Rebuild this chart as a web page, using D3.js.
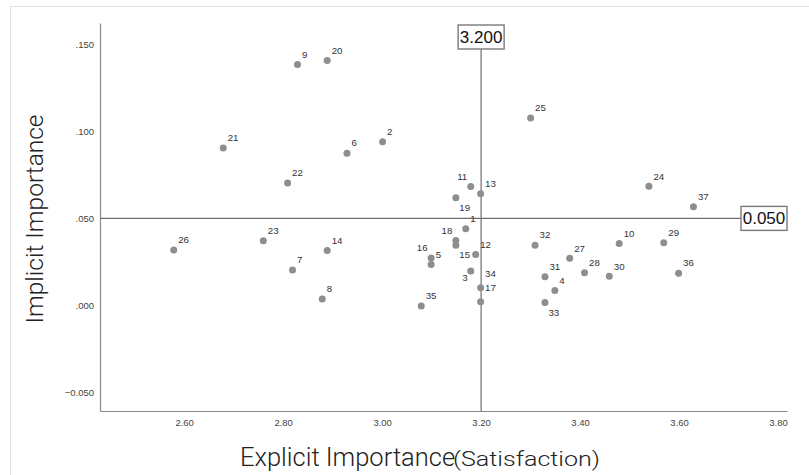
<!DOCTYPE html>
<html>
<head>
<meta charset="utf-8">
<script src="https://cdn.jsdelivr.net/npm/d3@7/dist/d3.min.js"></script>
<style>
  html, body { margin: 0; padding: 0; background: #fff; }
  svg { display: block; }
</style>
</head>
<body>
<svg id="chart" width="809" height="475"></svg>
<script>
// ---- Data ----
const ids = [1,2,3,4,5,6,7,8,9,10,11,12,13,14,15,16,17,18,19,20,21,22,23,24,25,26,27,28,29,30,31,32,33,34,35,36,37];
const explicitImportance = [3.169,3.001,3.179,3.349,3.099,2.929,2.819,2.879,2.829,3.479,3.179,3.189,3.199,2.889,3.149,3.099,3.199,3.149,3.149,2.889,2.679,2.809,2.760,3.539,3.300,2.579,3.379,3.409,3.569,3.459,3.329,3.309,3.329,3.199,3.079,3.599,3.629];
const implicitImportance = [0.0441,0.0940,0.0198,0.0085,0.0235,0.0875,0.0204,0.0037,0.1384,0.0356,0.0683,0.0292,0.0642,0.0315,0.0346,0.0273,0.0021,0.0373,0.0619,0.1407,0.0904,0.0704,0.0371,0.0685,0.1077,0.0319,0.0271,0.0187,0.0360,0.0167,0.0164,0.0346,0.0016,0.0102,-0.0003,0.0185,0.0567];
// label placement code for each point (same order as ids)
const labelPlacement = ["ne","ne","sw","ne","ne","ne","ne","ne","ne","ne","nw","ne","ne","ne","se","nw","ne2","nw","se","ne","ne","ne","ne","ne","ne","ne","ne","ne","ne","ne","ne","ne","se","ne2","ne","ne","ne"];
const xTickValues = [2.60, 2.80, 3.00, 3.20, 3.40, 3.60, 3.80];
const yTickValues = [0.150, 0.100, 0.050, 0.000, -0.050];
const refX = [3.2];
const refY = [0.05];
const xTitleMain = "Explicit Importance";
const xTitleSub = "(Satisfaction)";
const yTitle = "Implicit Importance";

// ---- Layout ----
const svg = d3.select("#chart");
const plot = { left: 100, right: 787, top: 23, bottom: 411 };
const x = d3.scaleLinear().domain([2.43, 3.818]).range([plot.left, plot.right]);
const y = d3.scaleLinear().domain([-0.0607, 0.1623]).range([plot.bottom, plot.top]);

// outer frame
svg.append("rect").attr("x", 10.5).attr("y", 6.5).attr("width", 900).attr("height", 600)
  .attr("fill", "none").attr("stroke", "#e2e2e2").attr("stroke-width", 1);

// axes
const fmtY = v => d3.format(".3f")(v).replace(/^(-?)0\./, "$1.");
const xAxis = d3.axisBottom(x).tickValues(xTickValues).tickSize(0).tickPadding(8).tickFormat(d3.format(".2f"));
const yAxis = d3.axisLeft(y).tickValues(yTickValues).tickSize(0).tickPadding(6).tickFormat(fmtY);

const gx = svg.append("g").attr("transform", `translate(0,${plot.bottom})`).call(xAxis);
const gy = svg.append("g").attr("transform", `translate(${plot.left},0)`).call(yAxis);
[gx, gy].forEach(g => {
  g.select(".domain").attr("stroke", "#8a8a8a").attr("stroke-width", 1.2);
  g.selectAll("text").attr("font-family", "'Liberation Sans', Arial, sans-serif")
    .attr("font-size", 9.5).attr("fill", "#444");
});

// reference lines
refX.forEach(v => {
  svg.append("line").attr("x1", x(v)).attr("x2", x(v)).attr("y1", 26).attr("y2", plot.bottom)
    .attr("stroke", "#6e6e6e").attr("stroke-width", 1.2);
});
refY.forEach(v => {
  svg.append("line").attr("x1", plot.left).attr("x2", 742).attr("y1", y(v)).attr("y2", y(v))
    .attr("stroke", "#6e6e6e").attr("stroke-width", 1.2);
});

// points
const pts = ids.map((id, i) => ({ id, xv: explicitImportance[i], yv: implicitImportance[i], pl: labelPlacement[i] }));
svg.append("g").selectAll("circle").data(pts).join("circle")
  .attr("cx", d => x(d.xv)).attr("cy", d => y(d.yv)).attr("r", 3.5)
  .attr("fill", "#8e8e8e");

const offs = {
  ne:  { dx: 4.5, dy: -6.7, anchor: "start" },
  ne2: { dx: 4.5, dy: -10.5, anchor: "start" },
  nw:  { dx: -3.5, dy: -6.7, anchor: "end" },
  se:  { dx: 3.5, dy: 13.2, anchor: "start" },
  sw:  { dx: -3, dy: 10, anchor: "end" }
};
svg.append("g").selectAll("text").data(pts).join("text")
  .attr("x", d => x(d.xv) + offs[d.pl].dx)
  .attr("y", d => y(d.yv) + offs[d.pl].dy)
  .attr("text-anchor", d => offs[d.pl].anchor)
  .attr("font-family", "'Liberation Sans', Arial, sans-serif")
  .attr("font-size", 9.7).attr("fill", "#333")
  .text(d => d.id);

// reference value boxes
function refBox(cx, cy, label) {
  const g = svg.append("g");
  g.append("rect").attr("x", cx - 23).attr("y", cy - 12).attr("width", 46).attr("height", 24)
    .attr("fill", "#fff").attr("stroke", "#7a7a7a").attr("stroke-width", 1.4);
  g.append("text").attr("x", cx).attr("y", cy + 6).attr("text-anchor", "middle")
    .attr("font-family", "'Liberation Sans', Arial, sans-serif").attr("font-size", 17).attr("fill", "#111")
    .text(label);
}
refBox(x(refX[0]), 37, d3.format(".3f")(refX[0]));
refBox(764, y(refY[0]), d3.format(".3f")(refY[0]));

// axis titles
svg.append("text").attr("x", 240).attr("y", 466).attr("text-anchor", "start")
  .attr("font-family", "Roboto, 'Liberation Sans', sans-serif").attr("font-weight", 300)
  .attr("font-size", 25.5).attr("fill", "#222").text(xTitleMain);
svg.append("text").attr("x", 453).attr("y", 466).attr("text-anchor", "start")
  .attr("font-family", "Roboto, 'Liberation Sans', sans-serif").attr("font-weight", 300)
  .attr("font-size", 21).attr("fill", "#222")
  .attr("textLength", 147).attr("lengthAdjust", "spacingAndGlyphs").text(xTitleSub);

svg.append("text").attr("transform", `translate(42.5,219) rotate(-90)`).attr("text-anchor", "middle")
  .attr("font-family", "Roboto, 'Liberation Sans', sans-serif").attr("font-weight", 300)
  .attr("font-size", 24.5).attr("fill", "#222").text(yTitle);
</script>
</body>
</html>
